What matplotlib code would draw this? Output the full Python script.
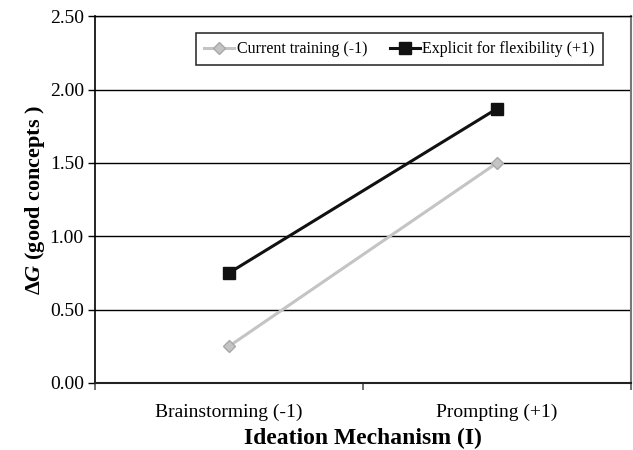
import matplotlib
matplotlib.use('Agg')
import matplotlib.pyplot as plt
from matplotlib.ticker import FixedLocator

plt.rcParams['font.family'] = 'Liberation Serif'
plt.rcParams['mathtext.fontset'] = 'custom'
plt.rcParams['mathtext.rm'] = 'Liberation Serif:bold'
plt.rcParams['mathtext.it'] = 'Liberation Serif:italic:bold'

categories = ['Brainstorming (-1)', 'Prompting (+1)']
current_training = [0.25, 1.50]
explicit_flex = [0.75, 1.87]
yticks = [0.0, 0.5, 1.0, 1.5, 2.0, 2.5]

fig = plt.figure(figsize=(6.33, 4.5), dpi=100)
ax = fig.add_axes([0.150, 0.149, 0.847, 0.815])

x = list(range(len(categories)))
ax.plot(x, current_training, color='#c4c4c4', lw=2.2, marker='D', ms=6,
        mec='#a8a8a8', mfc='#c4c4c4', label='Current training (-1)', zorder=3)
ax.plot(x, explicit_flex, color='#111111', lw=2.2, marker='s', ms=8,
        label='Explicit for flexibility (+1)', zorder=3)

ax.set_xlim(-0.5, 1.5)
ax.set_ylim(0, 2.5)
ax.set_yticks(yticks)
ax.set_yticklabels(['%.2f' % v for v in yticks], fontsize=14)
ax.yaxis.grid(True, color='black', lw=1)
ax.set_axisbelow(True)

ax.set_xticks(x)
ax.set_xticklabels(categories, fontsize=14)
ax.tick_params(axis='x', which='major', length=0, pad=15)
ax.xaxis.set_minor_locator(FixedLocator([-0.5, 0.5, 1.5]))
ax.tick_params(axis='x', which='minor', length=5, width=1.2, color='#555555')
ax.tick_params(axis='y', length=5, width=1, direction='out', pad=3)

ax.spines['left'].set_linewidth(1.2)
ax.spines['bottom'].set_linewidth(1.5)
ax.spines['bottom'].set_color('#222222')
ax.spines['right'].set_color('#777777')
ax.spines['right'].set_linewidth(1.5)
ax.spines['top'].set_linewidth(1)

ax.set_xlabel('Ideation Mechanism (I)', fontsize=17, fontweight='bold', labelpad=5)
ax.set_ylabel(r'$\Delta G$ (good concepts )', fontsize=16, fontweight='bold', labelpad=2)

leg = ax.legend(loc='upper right', bbox_to_anchor=(0.962, 0.975), ncol=2, fontsize=11.5,
                frameon=True, fancybox=False, edgecolor='#333333', framealpha=1,
                handlelength=1.9, handletextpad=0.15, columnspacing=1.4, borderpad=0.5)
leg.get_frame().set_linewidth(1.2)

fig.savefig('out.png', dpi=100)
